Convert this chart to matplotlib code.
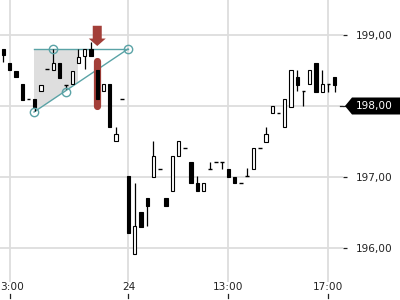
import matplotlib
matplotlib.use("Agg")
import matplotlib.pyplot as plt
from matplotlib.patches import Rectangle, Polygon
import matplotlib.transforms as mtransforms

# ---- data (15-minute candles) ----
opens = [198.80, 198.61, 198.49, 198.31, 198.10, 198.10, 198.21, 198.52, 198.51, 198.61,
         198.30, 198.31, 198.61, 198.70, 198.80, 198.51, 198.21, 198.31, 197.51, 198.10,
         197.01, 195.92, 196.51, 196.70, 197.00, 197.11, 196.70, 196.80, 197.30, 197.41,
         197.21, 196.92, 196.80, 197.11, 197.21, 197.21, 197.11, 197.00, 196.92, 197.01,
         197.11, 197.41, 197.49, 197.90, 197.90, 197.70, 197.99, 198.41, 198.21, 198.31,
         198.61, 198.20, 198.31, 198.41]
highs = [198.80, 198.61, 198.49, 198.31, 198.10, 198.10, 198.30, 198.52, 198.80, 198.61,
         198.30, 198.49, 198.80, 198.80, 198.90, 198.51, 198.31, 198.31, 197.70, 198.10,
         197.01, 196.92, 196.51, 196.70, 197.51, 197.11, 196.70, 197.30, 197.51, 197.41,
         197.21, 197.01, 196.92, 197.21, 197.21, 197.21, 197.11, 197.00, 196.92, 197.13,
         197.41, 197.41, 197.70, 198.00, 197.90, 198.10, 198.51, 198.51, 198.21, 198.51,
         198.61, 198.51, 198.31, 198.41]
lows = [198.62, 198.51, 198.41, 198.08, 198.10, 197.93, 198.21, 198.52, 198.51, 198.39,
        198.24, 198.31, 198.61, 198.52, 198.70, 198.10, 198.21, 197.70, 197.51, 198.10,
        196.21, 195.92, 196.30, 196.31, 197.00, 197.11, 196.59, 196.80, 197.30, 197.41,
        196.92, 196.80, 196.80, 197.11, 197.21, 197.11, 197.00, 196.92, 196.92, 197.01,
        197.11, 197.41, 197.49, 197.90, 197.90, 197.70, 197.99, 198.21, 198.00, 198.31,
        198.20, 198.20, 198.20, 198.20]
closes = [198.72, 198.51, 198.41, 198.08, 198.10, 197.99, 198.30, 198.52, 198.61, 198.39,
          198.30, 198.49, 198.69, 198.80, 198.70, 198.10, 198.31, 197.70, 197.61, 198.10,
          196.21, 196.31, 196.30, 196.59, 197.30, 197.11, 196.59, 197.30, 197.51, 197.41,
          196.92, 196.80, 196.92, 197.11, 197.21, 197.21, 197.00, 196.92, 196.92, 197.01,
          197.41, 197.41, 197.61, 198.00, 197.90, 198.10, 198.51, 198.30, 198.21, 198.51,
          198.20, 198.31, 198.31, 198.30]

xtick_idx = [1, 20, 36, 52]
xtick_labels = ["3:00", "24", "13:00", "17:00"]
ytick_vals = [196.0, 197.0, 198.0, 199.0]
ytick_labels = ["196,00", "197,00", "198,00", "199,00"]
last_price = 198.00

# drawing annotations (triangle pattern)
pattern_x = [4.88, 7.92, 10.0, 19.92]
pattern_y = [197.915, 198.803, 198.197, 198.803]
shade_x = [4.88, 11.92, 11.92, 4.88]
shade_y = [198.803, 198.803, 198.331, 197.915]
marker_idx = 15
marker_bar = [198.627, 197.993]
arrow_top, arrow_tip = 199.13, 198.845

# ---- figure ----
W, H = 400, 300
fig = plt.figure(figsize=(4, 3), dpi=100)
ax_right_px, ax_bottom_px = 343, 282
ax = fig.add_axes([0, (H - ax_bottom_px) / H, ax_right_px / W, ax_bottom_px / H])
ax.set_xlim(-3.5 / 6.25, (ax_right_px - 3.5) / 6.25)
ax.set_ylim(199 - (ax_bottom_px - 35) / 71, 199 + 35 / 71)
for s in ax.spines.values():
    s.set_visible(False)

grid_c = "#dddddd"
for v in ytick_vals:
    ax.axhline(v, color=grid_c, lw=1.3, zorder=0)
for i in xtick_idx:
    ax.axvline(i, color=grid_c, lw=1.3, zorder=0)

teal = "#5aa3a6"
red = "#a33f39"

# shaded area and pattern lines
ax.add_patch(Polygon(list(zip(shade_x, shade_y)), closed=True, facecolor="#dedede",
                     edgecolor="none", zorder=1))
ax.plot([pattern_x[0], pattern_x[3]], [pattern_y[1], pattern_y[3]], color=teal, lw=1.0, zorder=2)
ax.plot([pattern_x[0], pattern_x[3]], [pattern_y[0], pattern_y[3]], color=teal, lw=1.0, zorder=2)
ax.plot(pattern_x, pattern_y, 'o', ms=6, mfc="none", mec=teal, mew=1.0, zorder=5, clip_on=False)

# red marker bar and arrow
ax.plot([marker_idx, marker_idx], marker_bar, color=red, lw=5.2, solid_capstyle="round", zorder=2)
sh, hh = 0.72, 1.36
ymid = 198.95
ax.add_patch(Polygon([(marker_idx - sh, arrow_top), (marker_idx + sh, arrow_top),
                      (marker_idx + sh, ymid), (marker_idx + hh, ymid),
                      (marker_idx, arrow_tip), (marker_idx - hh, ymid),
                      (marker_idx - sh, ymid)], closed=True, facecolor=red,
                     edgecolor="none", zorder=3))

# candles
w = 0.5
for i, (o, h, l, c) in enumerate(zip(opens, highs, lows, closes)):
    if h > l:
        ax.vlines(i, l, h, color="black", lw=0.9, zorder=3)
    if abs(c - o) > 1e-9:
        fc = "black" if c < o else "white"
        ax.add_patch(Rectangle((i - w / 2, min(o, c)), w, abs(c - o), facecolor=fc,
                               edgecolor="black", lw=0.8, zorder=4))
    else:
        ax.hlines(o, i - w / 2 - 0.05, i + w / 2 + 0.05, color="black", lw=1.0, zorder=4)

# y axis on right
ax.set_yticks(ytick_vals)
ax.set_yticklabels(ytick_labels)
ax.yaxis.tick_right()
ax.tick_params(axis="y", direction="out", length=3, width=0.9, color="#222222",
               pad=6, labelsize=7.6, labelcolor="#222222")
ax.set_xticks([])

# last price tag
bt = mtransforms.blended_transform_factory(ax.transAxes, ax.transData)
ax_w_px = ax_right_px
def px2ax(px):
    return px / ax_w_px
ph = 8.5 / 71  # half height in price units
ax.add_patch(Polygon([(px2ax(345), last_price), (px2ax(352), last_price + ph),
                      (px2ax(402), last_price + ph), (px2ax(402), last_price - ph),
                      (px2ax(352), last_price - ph)], closed=True, transform=bt,
                     facecolor="black", edgecolor="none", clip_on=False, zorder=10))
ax.text(px2ax(356), last_price, "198,00", transform=bt, color="white", fontsize=7.6,
        va="center", ha="left", zorder=11, clip_on=False)
ax.plot([px2ax(340), px2ax(342.5)], [last_price, last_price], transform=bt, color="#222222",
        lw=0.9, clip_on=False, zorder=10)

# x labels below axes
bx = mtransforms.blended_transform_factory(ax.transData, fig.transFigure)
for k, (i, lab) in enumerate(zip(xtick_idx, xtick_labels)):
    if k == 0:
        fig.text(0.5 / W, 1 - 287 / H, lab, ha="left", va="center", fontsize=7.6,
                 color="#222222")
    else:
        ax.text(i, 1 - 287 / H, lab, transform=bx, ha="center", va="center", fontsize=7.6,
                color="#222222", clip_on=False)
    ax.plot([i, i], [1 - 293.5 / H, 1 - 297.5 / H], transform=bx, color="#222222", lw=0.9,
            clip_on=False)

fig.savefig("out.png", dpi=100)
